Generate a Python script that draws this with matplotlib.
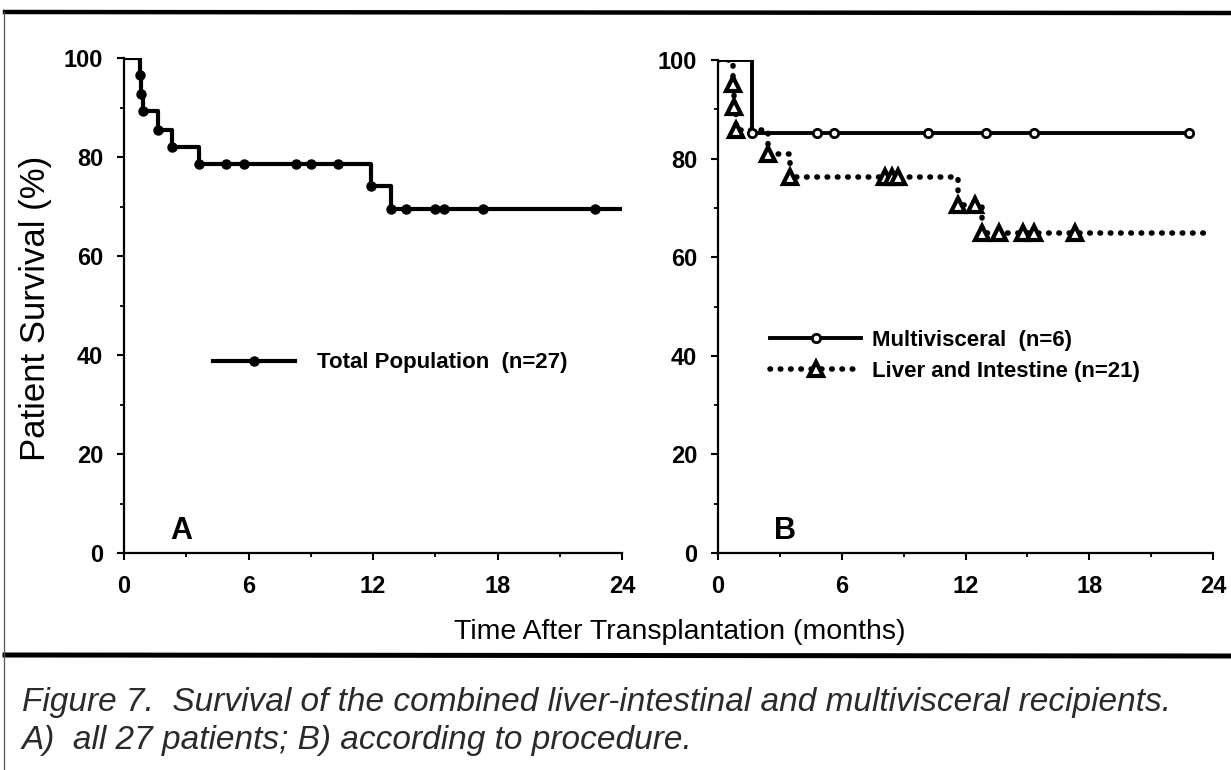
import numpy as np
import matplotlib
matplotlib.use('Agg')
import matplotlib.pyplot as plt
from matplotlib.lines import Line2D

# ---------------- data ----------------
# Panel A: total population (n=27)
a_event_t = [0.78, 0.84, 0.91, 1.65, 2.32, 3.6, 11.9, 12.85]
a_event_s = [96.5, 92.8, 89.2, 85.5, 82.0, 78.6, 74.1, 69.5]
a_censor_t = [4.9, 5.8, 8.3, 9.0, 10.3, 13.6, 15.0, 15.4, 17.3, 22.7]
a_end_t = 24.0

# Panel B: multivisceral (n=6)
mv_event_t = [1.65]
mv_event_s = [85.2]
mv_censor_t = [4.8, 5.6, 10.2, 13.0, 15.3, 22.85]
mv_end_t = 22.9

# Panel B: liver and intestine (n=21)
li_event_t = [0.72, 0.76, 0.85, 2.4, 3.5, 11.65, 12.8]
li_event_s = [95.2, 90.5, 85.7, 81.0, 76.2, 70.6, 65.0]
li_censor_t = [8.1, 8.45, 8.75, 12.45, 13.6, 14.8, 15.3, 17.3]
li_end_t = 24.0

x_ticks = [0, 6, 12, 18, 24]
x_minor = [3, 9, 15, 21]
y_ticks = [0, 20, 40, 60, 80, 100]
y_minor = [10, 30, 50, 70, 90]

label_a = "Total Population  (n=27)"
label_mv = "Multivisceral  (n=6)"
label_li = "Liver and Intestine (n=21)"
caption1 = "Figure 7.  Survival of the combined liver-intestinal and multivisceral recipients."
caption2 = "A)  all 27 patients; B) according to procedure."

# ---------------- helpers ----------------
def steps(ev_t, ev_s, end_t):
    t = np.array([0.0] + list(ev_t) + [end_t])
    s = np.array([100.0] + list(ev_s) + [ev_s[-1]])
    return t, s

def level_at(t, s, tc):
    idx = np.searchsorted(t, np.asarray(tc), side='right') - 1
    return s[idx]

FONT = ['Liberation Sans', 'DejaVu Sans']
plt.rcParams['font.family'] = FONT

W, H = 1231, 770
fig = plt.figure(figsize=(W / 100, H / 100), dpi=100)
fig.patch.set_facecolor('white')

def fx(px):
    return px / W

def fy(py):
    return 1 - py / H

axA = fig.add_axes([fx(124), fy(553), fx(622) - fx(124), fy(58) - fy(553)])
axB = fig.add_axes([fx(718), fy(553), fx(1213) - fx(718), fy(60) - fy(553)])

for ax in (axA, axB):
    ax.set_xlim(0, 24)
    ax.set_ylim(0, 100)
    ax.spines['top'].set_visible(False)
    ax.spines['right'].set_visible(False)
    for sp in ('left', 'bottom'):
        ax.spines[sp].set_linewidth(1.6)
    ax.set_xticks(x_ticks)
    ax.set_xticks(x_minor, minor=True)
    ax.set_yticks(y_ticks)
    ax.set_yticks(y_minor, minor=True)
    ax.tick_params(which='major', length=5, width=1.5, direction='out',
                   labelsize=17)
    ax.tick_params(which='minor', length=3, width=1.3, direction='out')
    ax.tick_params(axis='x', pad=11)
    ax.tick_params(axis='y', pad=10)
    for lab in ax.get_xticklabels() + ax.get_yticklabels():
        lab.set_fontweight('bold')
    ax.patch.set_alpha(0)

# ---------------- Panel A ----------------
t, s = steps(a_event_t, a_event_s, a_end_t)
axA.step(t, s, where='post', color='black', lw=3.0, solid_joinstyle='round',
         zorder=3)
axA.plot(a_event_t, a_event_s, 'o', color='black', ms=6.5, zorder=4)
axA.plot(a_censor_t, level_at(t, s, a_censor_t), 'o', color='black', ms=6.5,
         zorder=4)
hA = Line2D([], [], color='black', lw=3.0, marker='o', ms=6.5)
axA.legend([hA], [label_a], loc='center left',
           bbox_to_anchor=(0.178, 0.384), frameon=False,
           handlelength=3.7, handletextpad=1.0, borderpad=0,
           borderaxespad=0, prop={'weight': 'bold', 'size': 16})
axA.text(2.75, 4.5, "A", fontsize=22, fontweight='bold', ha='center',
         va='center')

# ---------------- Panel B ----------------
t1, s1 = steps(mv_event_t, mv_event_s, mv_end_t)
t2, s2 = steps(li_event_t, li_event_s, li_end_t)
dot_style = dict(color='black', lw=4.0, linestyle=(0, (0.1, 1.75)),
                 dash_capstyle='round')
axB.step(t2, s2, where='post', zorder=2, **dot_style)
axB.step(t1, s1, where='post', color='black', lw=2.8, zorder=3)
tri = dict(marker='^', ms=10, mfc='white', mec='black', mew=3.0,
           linestyle='none')
axB.plot(li_event_t, li_event_s, zorder=4, **tri)
axB.plot(li_censor_t, level_at(t2, s2, li_censor_t), zorder=4, **tri)
circ = dict(marker='o', ms=6, mfc='white', mec='black', mew=2.0,
            linestyle='none')
axB.plot(mv_event_t, mv_event_s, zorder=5, **circ)
axB.plot(mv_censor_t, level_at(t1, s1, mv_censor_t), zorder=5, **circ)

hMV = Line2D([], [], color='black', lw=2.8, marker='o', ms=6, mfc='white',
             mec='black', mew=2.0)
hLI = Line2D([], [], marker='^', ms=10, mfc='white', mec='black', mew=3.0,
             **dot_style)
axB.legend([hMV, hLI], [label_mv, label_li], loc='center left',
           bbox_to_anchor=(0.105, 0.40), frameon=False,
           handlelength=4.1, handletextpad=0.5, borderpad=0,
           borderaxespad=0, labelspacing=0.45,
           prop={'weight': 'bold', 'size': 16})
axB.text(3.25, 4.5, "B", fontsize=22, fontweight='bold', ha='center',
         va='center')

# ---------------- labels ----------------
fig.text(fx(36), fy(308), "Patient Survival (%)", rotation=90, fontsize=25,
         ha='center', va='center')
fig.text(fx(680), fy(632), "Time After Transplantation (months)",
         fontsize=20.5, ha='center', va='center')

# caption
fig.text(fx(22), fy(703), caption1, fontsize=24, style='italic',
         color='#2a2a2a', ha='left', va='center')
fig.text(fx(22), fy(741), caption2, fontsize=24, style='italic',
         color='#2a2a2a', ha='left', va='center')

# frame lines
fig.add_artist(Line2D([fx(5), 1], [fy(12), fy(13)], color='black', lw=3.2,
                      transform=fig.transFigure))
fig.add_artist(Line2D([fx(5), 1], [fy(655), fy(656)], color='black', lw=3.6,
                      transform=fig.transFigure))
fig.add_artist(Line2D([fx(4), fx(4)], [fy(12), 0], color='#555555', lw=0.9,
                      transform=fig.transFigure))

fig.savefig('out.png', dpi=100, facecolor='white')
